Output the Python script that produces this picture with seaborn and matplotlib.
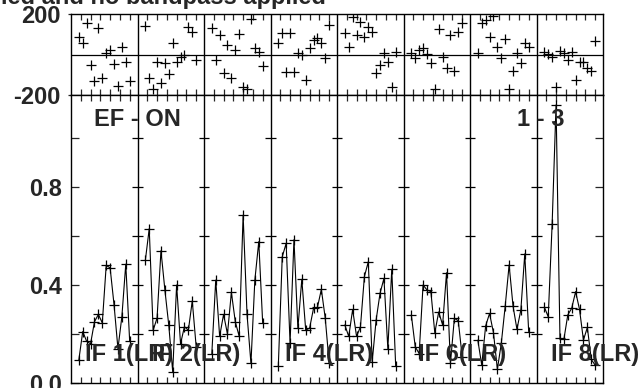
import matplotlib
matplotlib.use("Agg")
import matplotlib.pyplot as plt
import seaborn as sns
import pandas as pd

sns.set_style("ticks")
plt.rcParams['font.family'] = ['Liberation Sans', 'DejaVu Sans']
plt.rcParams['font.weight'] = 'bold'
plt.rcParams['font.size'] = 17

# channel numbers plotted inside each IF (IF spans 17 channel units)
channels = list(range(2, 16))
if_width = 17

# amplitude per channel, one list per IF
amp_if1 = [0.094, 0.21, 0.17, 0.16, 0.25, 0.28, 0.245, 0.48, 0.47, 0.32, 0.14, 0.27, 0.485, 0.17]
amp_if2 = [0.50, 0.63, 0.215, 0.265, 0.54, 0.38, 0.235, 0.046, 0.40, 0.16, 0.23, 0.215, 0.335, 0.148]
amp_if3 = [0.12, 0.42, 0.19, 0.28, 0.20, 0.37, 0.25, 0.19, 0.685, 0.28, 0.08, 0.42, 0.577, 0.245]
amp_if4 = [0.07, 0.515, 0.57, 0.163, 0.585, 0.223, 0.423, 0.216, 0.224, 0.305, 0.309, 0.382, 0.264, 0.08]
amp_if5 = [0.237, 0.19, 0.30, 0.19, 0.23, 0.434, 0.495, 0.087, 0.257, 0.366, 0.427, 0.14, 0.464, 0.07]
amp_if6 = [0.278, 0.148, 0.12, 0.40, 0.38, 0.373, 0.205, 0.29, 0.237, 0.45, 0.08, 0.264, 0.254, 0.107]
amp_if7 = [0.175, 0.073, 0.233, 0.284, 0.205, 0.056, 0.162, 0.314, 0.482, 0.314, 0.219, 0.298, 0.527, 0.21]
amp_if8 = [0.31, 0.27, 0.65, 1.135, 0.182, 0.178, 0.278, 0.305, 0.373, 0.30, 0.175, 0.227, 0.096, 0.073]

# phase (degrees) per channel, one list per IF
phase_if1 = [88, 58, 157, -52, -129, 129, -118, 9, 22, -47, -156, 35, -35, -129]
phase_if2 = [141, -118, -172, -35, -142, -44, -96, 55, -35, -11, -2, 134, 113, -27]
phase_if3 = [129, -27, 96, -93, 47, -118, 22, 101, -162, -172, 174, 31, 14, -57]
phase_if4 = [55, 108, -85, 108, -85, 6, 0, -126, 31, 72, 80, 55, -19, 146]
phase_if5 = [108, 39, 187, 96, 162, 85, 134, 113, -90, -52, 6, -35, -159, 14]
phase_if6 = [6, -19, 22, 31, 2, -40, -172, 124, -14, -68, 96, -80, 113, 154]
phase_if7 = [6, 157, 170, 85, 190, 39, -19, 75, -172, -80, 6, -40, 55, 39]
phase_if8 = [14, 2, -11, -162, 19, 9, -27, 14, -126, -35, -35, -68, -80, 68]

# IF labels shown at the bottom
label_ifs = [1, 2, 4, 6, 8]
title_text = 'ied and no bandpass applied'
source_text = 'EF - ON'
baseline_text = '1 - 3'

amps = [amp_if1, amp_if2, amp_if3, amp_if4, amp_if5, amp_if6, amp_if7, amp_if8]
phases = [phase_if1, phase_if2, phase_if3, phase_if4, phase_if5, phase_if6, phase_if7, phase_if8]

rows = []
for i, (a, p) in enumerate(zip(amps, phases)):
    for ch, av, pv in zip(channels, a, p):
        rows.append({'IF': i + 1, 'x': i * if_width + ch, 'amp': av, 'phase': pv})
df = pd.DataFrame(rows)
n_if = len(amps)
xmax = n_if * if_width

fig = plt.figure(figsize=(6.4, 3.88), dpi=100)
ax_ph = fig.add_axes([71 / 640, 1 - 95 / 388, 532 / 640, 81 / 388])
ax_am = fig.add_axes([71 / 640, 1 - 383 / 388, 532 / 640, 288 / 388])

# phase panel
sns.scatterplot(data=df, x='x', y='phase', ax=ax_ph, marker='+', color='k',
                s=52, linewidth=0.9, legend=False, clip_on=True)
ax_ph.axhline(0, color='k', lw=0.9)
ax_ph.set_xlim(0, xmax)
ax_ph.set_ylim(-200, 200)

# amplitude panel
sns.lineplot(data=df, x='x', y='amp', units='IF', estimator=None, ax=ax_am,
             color='k', lw=0.8, marker='+', markersize=7.2, markeredgewidth=0.9,
             markeredgecolor='k', legend=False)
ax_am.set_xlim(0, xmax)
ax_am.set_ylim(0, 1.1755)

xt = [i * if_width + 2.5 * k for i in range(n_if) for k in range(1, 7)]
for ax in (ax_ph, ax_am):
    for i in range(1, n_if):
        ax.axvline(i * if_width, color='k', lw=1)
    ax.set_xticks(xt)
    ax.tick_params(axis='x', direction='in', top=True, bottom=True, length=4,
                   width=0.9, labelbottom=False)
    ax.set_xlabel('')
    ax.set_ylabel('')
    for sp in ax.spines.values():
        sp.set_color('k')
        sp.set_linewidth(1)

ax_ph.set_yticks([-200, 200])
ax_ph.set_yticklabels(['-200', '200'])
ax_ph.tick_params(axis='y', direction='out', length=2.5, width=0.9, pad=5)

yt = [0.0, 0.2, 0.4, 0.6, 0.8, 1.0]
ax_am.set_yticks(yt)
ax_am.set_yticklabels(['0.0', '', '0.4', '', '0.8', ''])
ax_am.tick_params(axis='y', direction='in', left=True, right=True, length=6,
                  width=0.9, pad=6.5)
for i in range(1, n_if):
    ax_am.hlines(yt[1:], i * if_width - 1.4, i * if_width + 1.4, color='k', lw=0.9)

for n in label_ifs:
    ax_am.text((n - 1) * if_width + 3.6, 0.118, f'IF {n}(LR)', ha='left',
               va='center', fontweight='bold')
ax_am.text(5.9, 1.075, source_text, ha='left', va='center', fontweight='bold')
ax_am.text(114.1, 1.075, baseline_text, ha='left', va='center', fontweight='bold')

fig.text(326 / 640, 1 - 4 / 388, title_text, ha='right', va='baseline',
         fontweight='bold')

fig.savefig('out.png', dpi=100)
